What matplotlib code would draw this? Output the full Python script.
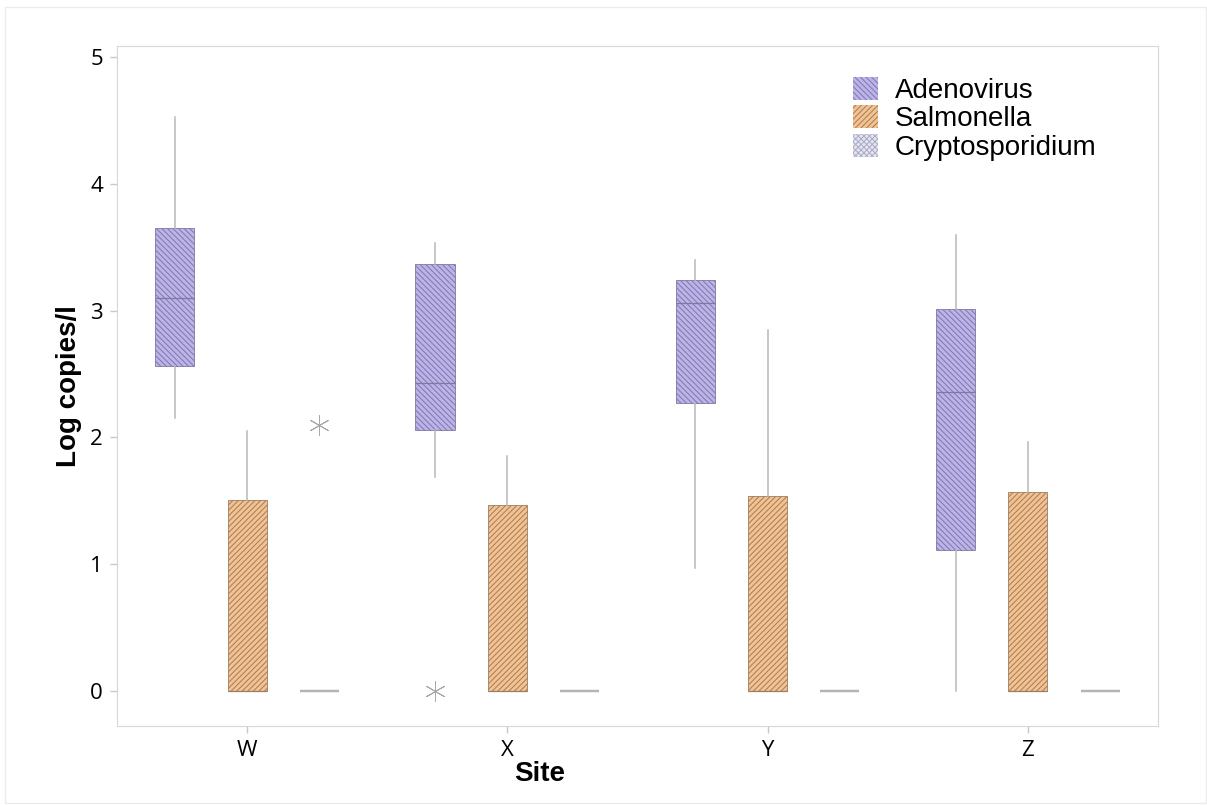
import matplotlib.pyplot as plt
from matplotlib.patches import Patch, Rectangle

plt.rcParams["hatch.linewidth"] = 0.7

sites = ["W", "X", "Y", "Z"]
pathogens = ["Adenovirus", "Salmonella", "Cryptosporidium"]

# box stats per pathogen, one value per site
adeno_q1 = [2.56, 2.06, 2.27, 1.11]
adeno_med = [3.10, 2.43, 3.06, 2.36]
adeno_q3 = [3.65, 3.37, 3.24, 3.01]
adeno_lo = [2.15, 1.69, 0.97, 0.0]
adeno_hi = [4.53, 3.53, 3.40, 3.60]
adeno_out = [[], [0.0], [], []]

salm_q1 = [0.0, 0.0, 0.0, 0.0]
salm_med = [0.0, 0.0, 0.0, 0.0]
salm_q3 = [1.51, 1.47, 1.54, 1.57]
salm_lo = [0.0, 0.0, 0.0, 0.0]
salm_hi = [2.05, 1.85, 2.85, 1.96]
salm_out = [[], [], [], []]

crypto_q1 = [0.0, 0.0, 0.0, 0.0]
crypto_med = [0.0, 0.0, 0.0, 0.0]
crypto_q3 = [0.0, 0.0, 0.0, 0.0]
crypto_lo = [0.0, 0.0, 0.0, 0.0]
crypto_hi = [0.0, 0.0, 0.0, 0.0]
crypto_out = [[2.10], [], [], []]

series = [
    (adeno_q1, adeno_med, adeno_q3, adeno_lo, adeno_hi, adeno_out),
    (salm_q1, salm_med, salm_q3, salm_lo, salm_hi, salm_out),
    (crypto_q1, crypto_med, crypto_q3, crypto_lo, crypto_hi, crypto_out),
]

fills = ["#bcb3ec", "#f5c28f", "#e4e6f0"]
edges = ["#7f78a0", "#9c7d62", "#a9a9c8"]
hatches = ["\\\\\\\\\\\\", "//////", "xxxxxx"]
offsets = [-0.278, 0.0, 0.278]

fig = plt.figure(figsize=(12.07, 8.05), dpi=100)
fig.patches.append(Rectangle((0.004, 0.003), 0.995, 0.988, transform=fig.transFigure,
                             fill=False, edgecolor="#ececec", linewidth=1))
ax = fig.add_axes([0.0969, 0.0981, 0.8625, 0.8448])

flier_style = dict(marker=(6, 2, 0), markersize=15, markeredgecolor="#a8a8a8",
                   markeredgewidth=0.7, linestyle="none")

for k, (q1, med, q3, lo, hi, out) in enumerate(series):
    stats = []
    for i in range(len(sites)):
        stats.append({"med": med[i], "q1": q1[i], "q3": q3[i],
                      "whislo": lo[i], "whishi": hi[i], "fliers": out[i]})
    pos = [i + offsets[k] for i in range(len(sites))]
    if k == 2:
        bp = ax.bxp(stats, positions=pos, widths=0.15, patch_artist=True, showcaps=False,
                    boxprops=dict(facecolor="none", edgecolor="#b4b4b4", linewidth=1.6),
                    medianprops=dict(color="#b4b4b4", linewidth=1.6),
                    whiskerprops=dict(color="#b8b8b8", linewidth=1),
                    flierprops=flier_style)
    else:
        bp = ax.bxp(stats, positions=pos, widths=0.15, patch_artist=True, showcaps=False,
                    boxprops=dict(facecolor=fills[k], edgecolor=edges[k], linewidth=0.6),
                    medianprops=dict(color=edges[k], linewidth=0.9),
                    whiskerprops=dict(color="#b8b8b8", linewidth=1.1),
                    flierprops=flier_style)
        for b in bp["boxes"]:
            b.set_hatch(hatches[k])

ax.set_xlim(-0.5, 3.5)
ax.set_ylim(-0.276, 5.087)
ax.set_xticks(range(len(sites)))
ax.set_xticklabels(sites)
ax.set_yticks([0, 1, 2, 3, 4, 5])
for spine in ax.spines.values():
    spine.set_color("#d8d8d8")
ax.tick_params(colors="#c8c8c8", labelcolor="black", length=5, width=1, pad=5)
for lab in ax.get_xticklabels() + ax.get_yticklabels():
    lab.set_fontfamily("Open Sans")
    lab.set_fontsize(16)

ax.set_xlabel("Site", fontsize=20, fontweight="bold", family="Liberation Sans")
ax.set_ylabel("Log copies/l", fontsize=20, fontweight="bold", family="Liberation Sans")
ax.xaxis.set_label_coords(0.406, -0.052)
ax.yaxis.set_label_coords(-0.034, 0.5)

handles = [Patch(facecolor=fills[k], edgecolor=edges[k], hatch=hatches[k], linewidth=0,
                 label=pathogens[k]) for k in range(3)]
ax.legend(handles=handles, loc="upper left", bbox_to_anchor=(0.694, 0.975), frameon=False,
          borderpad=0, prop={"family": "Liberation Sans", "size": 20}, handlelength=0.9,
          handleheight=0.9, labelspacing=0.05, handletextpad=0.6)

fig.savefig("out.png", dpi=100)
